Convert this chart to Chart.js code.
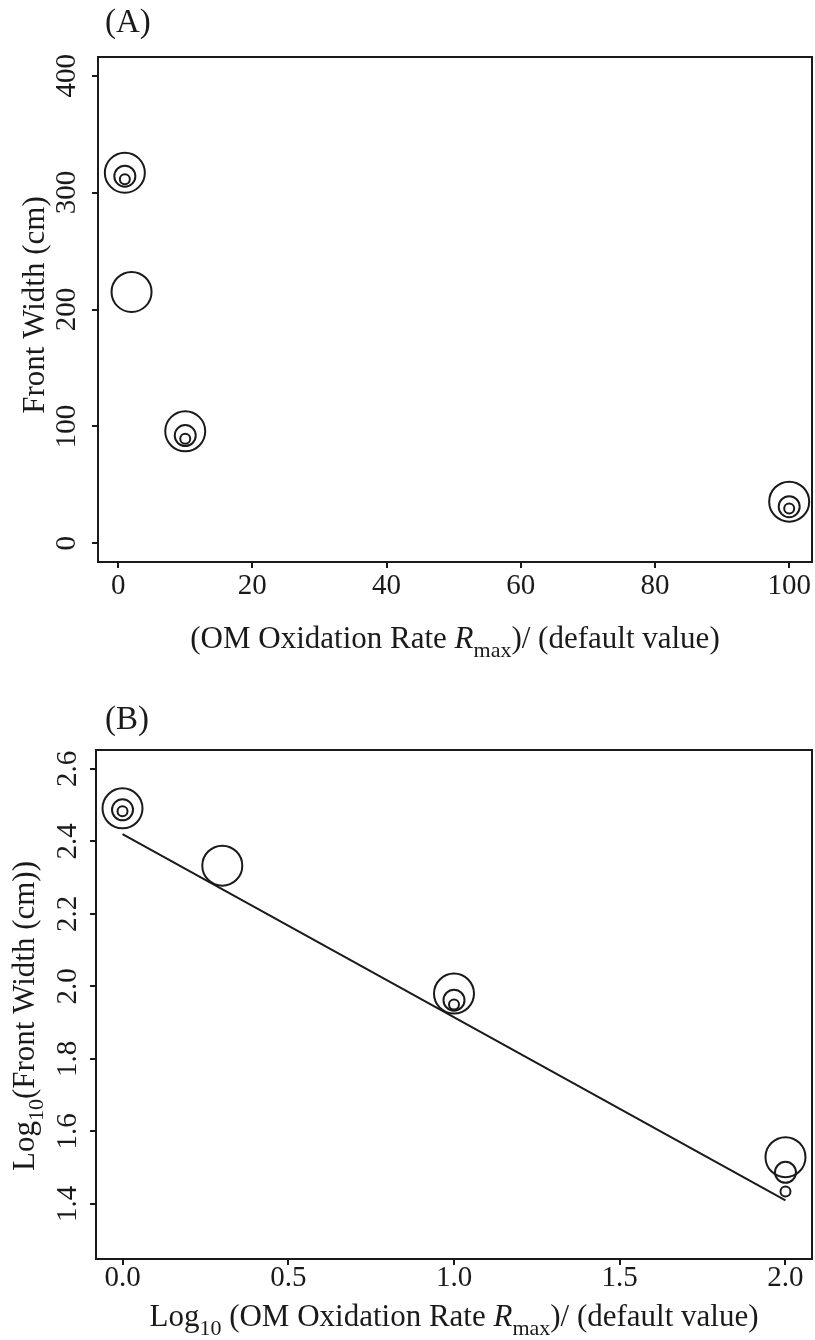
<!DOCTYPE html>
<html>
<head>
<meta charset="utf-8">
<script src="https://cdn.jsdelivr.net/npm/chart.js@4.4.1/dist/chart.umd.min.js"></script>
<style>
  html, body { margin: 0; padding: 0; background: #fff; overflow: hidden; }
  canvas { display: block; }
</style>
</head>
<body>
<canvas id="chartA" width="815" height="670"></canvas>
<canvas id="chartB" width="815" height="670"></canvas>
<script>
// Panel A: front width against Rmax / default
var ratioA = [1, 2, 10, 100];
var widthBig = [317, 215, 95.8, 35.6];
var ratioSub = [1, 10, 100];
var widthMid = [314, 92.2, 31.3];
var widthSmall = [311.5, 89.4, 29.8];
var xTicksA = [0, 20, 40, 60, 80, 100];
var yTicksA = [0, 100, 200, 300, 400];

// Panel B: the same in log10, with fitted line
var logRatio = [0, 0.301, 1, 2];
var logBig = [2.491, 2.333, 1.98, 1.529];
var logRatioSub = [0, 1, 2];
var logMid = [2.487, 1.962, 1.487];
var logSmall = [2.483, 1.95, 1.434];
var fitX = [0, 2];
var fitY = [2.42, 1.41];
var xTicksB = [0, 0.5, 1, 1.5, 2];
var yTicksB = [1.4, 1.6, 1.8, 2.0, 2.2, 2.4, 2.6];

var ink = '#1a1a1a';
var serif = "'Liberation Serif', 'Times New Roman', serif";
Chart.defaults.font.family = serif;
Chart.defaults.color = ink;

function pts(xs, ys) {
    return xs.map(function (x, i) { return { x: x, y: ys[i] }; });
}

function circles(xs, ys, r) {
    return {
        data: pts(xs, ys),
        pointRadius: r,
        pointHoverRadius: r,
        pointBorderWidth: 2,
        pointBorderColor: ink,
        pointBackgroundColor: 'rgba(0,0,0,0)',
        showLine: false
    };
}

function axis(min, max, ticks, fmt, vertical, size, pad) {
    return {
        type: 'linear',
        min: min,
        max: max,
        afterBuildTicks: function (s) { s.ticks = ticks.map(function (v) { return { value: v }; }); },
        afterFit: function (s) {
            // fixed axis size, no extra room for overhanging labels
            if (vertical) s.width = size; else s.height = size;
            s.paddingLeft = s.paddingRight = s.paddingTop = s.paddingBottom = 0;
        },
        grid: { display: true, drawOnChartArea: false, drawTicks: true, tickLength: 6, color: ink, lineWidth: 2 },
        border: { display: false },
        ticks: {
            font: { size: 29, lineHeight: 1 },
            color: ink,
            padding: pad,
            autoSkip: false,
            minRotation: vertical ? 90 : 0,
            maxRotation: vertical ? 90 : 0,
            crossAlign: vertical ? 'center' : 'near',
            callback: function (v) { return fmt(v); }
        }
    };
}

// draws a line of text made of plain / italic / subscript pieces
function drawRich(ctx, parts, x, y, size, angle, align) {
    function fontOf(p) {
        if (p[1] === 'sub') return Math.round(size * 0.7) + 'px ' + serif;
        if (p[1] === 'i') return 'italic ' + size + 'px ' + serif;
        return size + 'px ' + serif;
    }
    ctx.save();
    ctx.translate(x, y);
    ctx.rotate(angle || 0);
    ctx.textAlign = 'left';
    ctx.textBaseline = 'alphabetic';
    ctx.fillStyle = ink;
    var widths = parts.map(function (p) { ctx.font = fontOf(p); return ctx.measureText(p[0]).width; });
    var total = widths.reduce(function (a, b) { return a + b; }, 0);
    var cx = align === 'left' ? 0 : -total / 2;
    parts.forEach(function (p, i) {
        ctx.font = fontOf(p);
        ctx.fillText(p[0], cx, p[1] === 'sub' ? size * 0.3 : 0);
        cx += widths[i];
    });
    ctx.restore();
}

function panelPlugin(items) {
    return {
        id: 'panelText',
        afterDraw: function (chart) {
            var ctx = chart.ctx, a = chart.chartArea;
            ctx.save();
            ctx.strokeStyle = ink;
            ctx.lineWidth = 2;
            ctx.strokeRect(a.left, a.top, a.right - a.left, a.bottom - a.top);
            ctx.restore();
            items.forEach(function (it) {
                drawRich(ctx, it.parts, it.x, it.y, it.size, it.angle, it.align);
            });
        }
    };
}

var baseOptions = {
    responsive: false,
    animation: false,
    devicePixelRatio: 1,
    plugins: { legend: { display: false }, tooltip: { enabled: false } }
};

// Panel A
new Chart(document.getElementById('chartA'), {
    type: 'scatter',
    data: {
        datasets: [
            circles(ratioA, widthBig, 20),
            circles(ratioSub, widthMid, 10.5),
            circles(ratioSub, widthSmall, 5)
        ]
    },
    options: Object.assign({}, baseOptions, {
        layout: { autoPadding: false, padding: { top: 57, right: 3, bottom: 0, left: 0 } },
        scales: {
            x: axis(-3, 103.4, xTicksA, function (v) { return String(v); }, false, 108, 4),
            y: axis(-16, 416, yTicksA, function (v) { return String(v); }, true, 98, 3)
        }
    }),
    plugins: [panelPlugin([
        { parts: [['(A)', '']], x: 105, y: 32, size: 33, align: 'left' },
        { parts: [['(OM Oxidation Rate ', ''], ['R', 'i'], ['max', 'sub'], [')/ (default value)', '']], x: 455, y: 648, size: 31 },
        { parts: [['Front Width (cm)', '']], x: 44, y: 305, size: 31, angle: -Math.PI / 2 }
    ])]
});

// Panel B
var dsFit = {
    data: pts(fitX, fitY),
    showLine: true,
    borderColor: ink,
    borderWidth: 2,
    pointRadius: 0,
    pointHoverRadius: 0,
    fill: false
};

new Chart(document.getElementById('chartB'), {
    type: 'scatter',
    data: {
        datasets: [
            circles(logRatio, logBig, 20),
            circles(logRatioSub, logMid, 10.5),
            circles(logRatioSub, logSmall, 5),
            dsFit
        ]
    },
    options: Object.assign({}, baseOptions, {
        layout: { autoPadding: false, padding: { top: 80, right: 3, bottom: 0, left: 0 } },
        scales: {
            x: axis(-0.08, 2.08, xTicksB, function (v) { return v.toFixed(1); }, false, 81, -1),
            y: axis(1.248, 2.652, yTicksB, function (v) { return v.toFixed(1); }, true, 96, 3)
        }
    }),
    plugins: [panelPlugin([
        { parts: [['(B)', '']], x: 105, y: 59, size: 33, align: 'left' },
        { parts: [['Log', ''], ['10', 'sub'], [' (OM Oxidation Rate ', ''], ['R', 'i'], ['max', 'sub'], [')/ (default value)', '']], x: 454, y: 656, size: 31 },
        { parts: [['Log', ''], ['10', 'sub'], ['(Front Width (cm))', '']], x: 34, y: 346, size: 31, angle: -Math.PI / 2 }
    ])]
});
</script>
</body>
</html>
